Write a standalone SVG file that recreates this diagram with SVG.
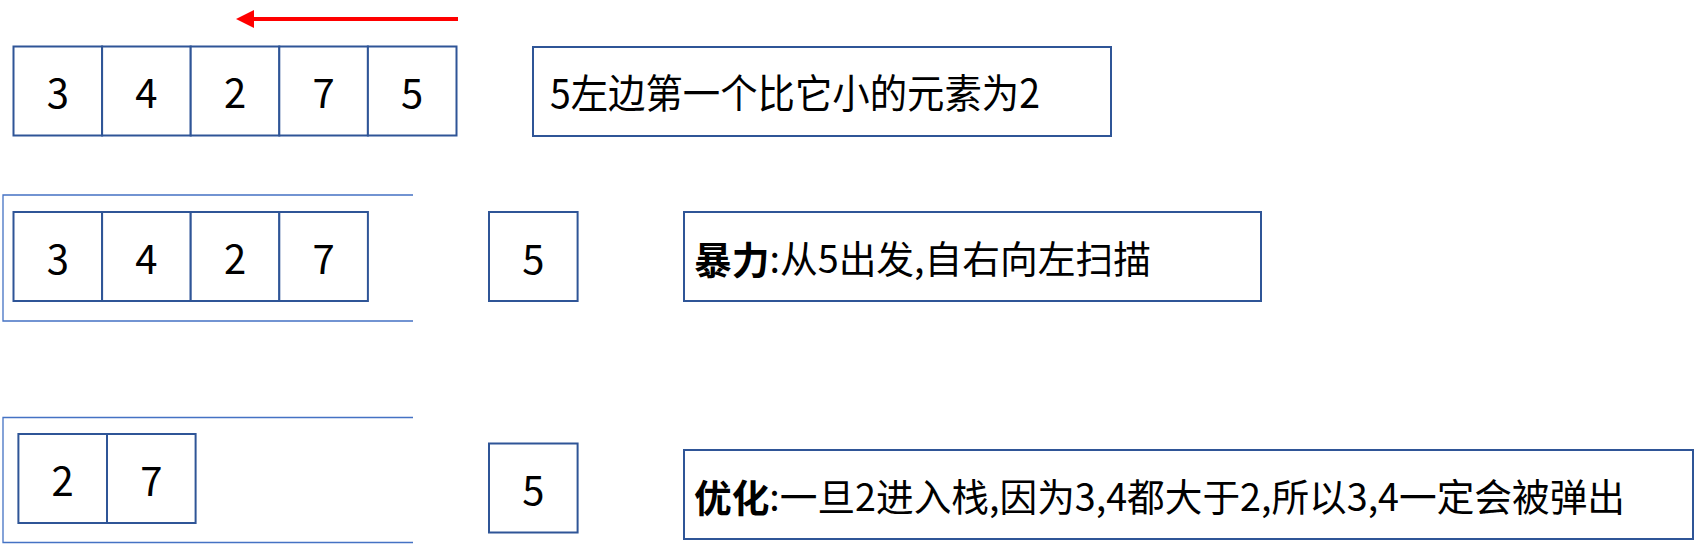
<svg xmlns="http://www.w3.org/2000/svg" width="1696" height="544" viewBox="0 0 1696 544">
<style>
.cell{fill:#fff;stroke:#2F5597;stroke-width:2}
.stack{fill:none;stroke:#4472C4;stroke-width:1.3}
.num{font-family:"Noto Sans CJK SC","Noto Sans",sans-serif;font-size:40px;fill:#000;text-anchor:middle;dominant-baseline:central}
.lbl{font-family:"Noto Sans CJK SC","Noto Sans",sans-serif;fill:#000;dominant-baseline:central}
.b{font-weight:bold}
</style>
<defs>
<marker id="ah" markerWidth="4.5" markerHeight="4.5" refX="2" refY="2.25" orient="auto" markerUnits="strokeWidth">
<path d="M0,0 L4.5,2.25 L0,4.5 Z" fill="#FF0000"/>
</marker>
</defs>
<rect width="1696" height="544" fill="#fff"/>

<g id="connectors">
<line x1="458" y1="19" x2="246" y2="19" stroke="#FF0000" stroke-width="4" marker-end="url(#ah)"/>
</g>

<g id="row1">
<g id="r1c1"><rect class="cell" x="13.5" y="46.5" width="88.6" height="89"/><text class="num" x="57.8" y="91">3</text></g>
<g id="r1c2"><rect class="cell" x="102.1" y="46.5" width="88.6" height="89"/><text class="num" x="146.4" y="91">4</text></g>
<g id="r1c3"><rect class="cell" x="190.7" y="46.5" width="88.6" height="89"/><text class="num" x="235" y="91">2</text></g>
<g id="r1c4"><rect class="cell" x="279.3" y="46.5" width="88.6" height="89"/><text class="num" x="323.6" y="91">7</text></g>
<g id="r1c5"><rect class="cell" x="367.9" y="46.5" width="88.6" height="89"/><text class="num" x="412.2" y="91">5</text></g>
</g>
<g id="note1">
<rect class="cell" x="533" y="47" width="578" height="89"/>
<text class="lbl" x="550" y="91" font-size="40" textLength="490" lengthAdjust="spacingAndGlyphs">5左边第一个比它小的元素为2</text>
</g>

<g id="stack2">
<path class="stack" d="M413,195 H3 V321 H413"/>
</g>
<g id="row2">
<g id="r2c1"><rect class="cell" x="13.5" y="212" width="88.6" height="89"/><text class="num" x="57.8" y="256.5">3</text></g>
<g id="r2c2"><rect class="cell" x="102.1" y="212" width="88.6" height="89"/><text class="num" x="146.4" y="256.5">4</text></g>
<g id="r2c3"><rect class="cell" x="190.7" y="212" width="88.6" height="89"/><text class="num" x="235" y="256.5">2</text></g>
<g id="r2c4"><rect class="cell" x="279.3" y="212" width="88.6" height="89"/><text class="num" x="323.6" y="256.5">7</text></g>
</g>
<g id="cur2"><rect class="cell" x="489" y="212" width="88.6" height="89"/><text class="num" x="533.3" y="256.5">5</text></g>
<g id="note2">
<rect class="cell" x="684" y="212" width="577" height="89"/>
<text class="lbl" x="694" y="256.5" font-size="38" textLength="457" lengthAdjust="spacingAndGlyphs"><tspan class="b">暴力</tspan>:从5出发,自右向左扫描</text>
</g>

<g id="stack3">
<path class="stack" d="M413,417.5 H3 V542.5 H413"/>
</g>
<g id="row3">
<g id="r3c1"><rect class="cell" x="18.4" y="434" width="88.6" height="89"/><text class="num" x="62.7" y="478.5">2</text></g>
<g id="r3c2"><rect class="cell" x="107" y="434" width="88.6" height="89"/><text class="num" x="151.3" y="478.5">7</text></g>
</g>
<g id="cur3"><rect class="cell" x="489" y="443.5" width="88.6" height="89"/><text class="num" x="533.3" y="488">5</text></g>
<g id="note3">
<rect class="cell" x="684" y="450" width="1009" height="89"/>
<text class="lbl" x="694" y="494.5" font-size="38" textLength="931" lengthAdjust="spacingAndGlyphs"><tspan class="b">优化</tspan>:一旦2进入栈,因为3,4都大于2,所以3,4一定会被弹出</text>
</g>
</svg>
